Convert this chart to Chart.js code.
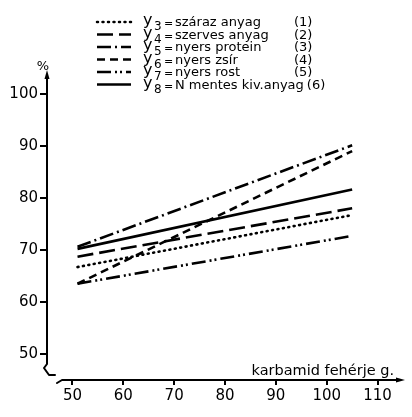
<!DOCTYPE html>
<html>
<head>
<meta charset="utf-8">
<script src="https://cdn.jsdelivr.net/npm/chart.js@4.4.1/dist/chart.umd.min.js"></script>
<style>
  body { margin: 0; background: #fff; }
</style>
</head>
<body>
<canvas id="chart" width="412" height="417"></canvas>
<script>
// karbamid fehérje (g) at the ends of the fitted lines
const xValues = [51, 105];
// y3..y8 values (%)
const szarazAnyag = [66.7, 76.7];
const szervesAnyag = [68.7, 78.0];
const nyersProtein = [70.6, 90.1];
const nyersZsir = [63.5, 89.0];
const nyersRost = [63.5, 72.7];
const nMentes = [70.2, 81.6];

const seriesNames = ['száraz anyag', 'szerves anyag', 'nyers protein', 'nyers zsír', 'nyers rost', 'N mentes kiv.anyag'];
const seriesSubs = ['3', '4', '5', '6', '7', '8'];
const seriesNums = ['(1)', '(2)', '(3)', '(4)', '(5)', '(6)'];

const xTicks = [50, 60, 70, 80, 90, 100, 110];
const yTicks = [50, 60, 70, 80, 90, 100];

const FONT = '"DejaVu Sans", sans-serif';

function pts(vals) {
    return vals.map((v, i) => ({ x: xValues[i], y: v }));
}

function ds(i, vals, dash) {
    return {
        label: seriesNames[i],
        data: pts(vals),
        borderColor: '#000',
        borderWidth: 2.6,
        borderDash: dash,
        borderCapStyle: dash.length && dash[0] < 3 ? 'round' : 'butt',
        pointRadius: 0,
        fill: false,
        tension: 0
    };
}

// legend drawn by hand so the line styles look like the print
const legendPlugin = {
    id: 'handLegend',
    afterDraw(chart) {
        const ctx = chart.ctx;
        ctx.save();
        chart.data.datasets.forEach((d, i) => {
            const yy = 22 + i * 12.5;
            ctx.strokeStyle = '#000';
            ctx.lineWidth = 2.5;
            ctx.lineCap = d.borderCapStyle;
            ctx.setLineDash(d.borderDash);
            ctx.beginPath();
            ctx.moveTo(97, yy);
            ctx.lineTo(131, yy);
            ctx.stroke();
            ctx.setLineDash([]);

            ctx.fillStyle = '#000';
            ctx.textBaseline = 'alphabetic';
            ctx.font = '16px ' + FONT;
            ctx.fillText('y', 143, yy + 3);
            ctx.font = '12px ' + FONT;
            ctx.fillText(seriesSubs[i], 154, yy + 8);
            ctx.font = '11px ' + FONT;
            ctx.fillText('=', 164, yy + 5);
            ctx.font = '13px ' + FONT;
            ctx.fillText(d.label, 175, yy + 4);
            const x = 175 + ctx.measureText(d.label).width + 3;
            ctx.fillText(seriesNums[i], Math.max(294, x), yy + 4);
        });
        ctx.restore();
    }
};

// axes with arrows and the broken corner
const axesPlugin = {
    id: 'axes',
    afterDraw(chart) {
        const { ctx, chartArea: a } = chart;
        ctx.save();
        ctx.strokeStyle = '#000';
        ctx.fillStyle = '#000';
        ctx.lineWidth = 2;
        ctx.lineCap = 'round';
        ctx.lineJoin = 'round';
        ctx.setLineDash([]);

        ctx.beginPath();
        ctx.moveTo(a.left, a.top + 4);
        ctx.lineTo(a.left, a.bottom - 16);
        ctx.lineTo(a.left - 3, a.bottom - 12);
        ctx.lineTo(a.left + 2, a.bottom - 5);
        ctx.lineTo(a.left + 8, a.bottom - 5);
        ctx.stroke();

        ctx.beginPath();
        ctx.moveTo(a.left + 10, a.bottom + 3);
        ctx.lineTo(a.left + 15, a.bottom);
        ctx.lineTo(a.right - 4, a.bottom);
        ctx.stroke();

        ctx.beginPath();
        ctx.moveTo(a.left, a.top - 3);
        ctx.lineTo(a.left - 2.5, a.top + 6);
        ctx.lineTo(a.left + 2.5, a.top + 6);
        ctx.closePath();
        ctx.fill();

        ctx.beginPath();
        ctx.moveTo(a.right + 2, a.bottom);
        ctx.lineTo(a.right - 7, a.bottom - 2.5);
        ctx.lineTo(a.right - 7, a.bottom + 2.5);
        ctx.closePath();
        ctx.fill();

        ctx.font = '13px ' + FONT;
        ctx.textAlign = 'center';
        ctx.fillText('%', a.left - 4, a.top - 3);

        ctx.font = '14.5px ' + FONT;
        ctx.textAlign = 'right';
        ctx.fillText('karbamid fehérje g.', 394, a.bottom - 5);
        ctx.restore();
    }
};

new Chart(document.getElementById('chart'), {
    type: 'line',
    data: {
        datasets: [
            ds(0, szarazAnyag, [1, 4.5]),
            ds(1, szervesAnyag, [16, 6]),
            ds(2, nyersProtein, [14, 4, 2, 4]),
            ds(3, nyersZsir, [8, 5]),
            ds(4, nyersRost, [14, 4, 2, 3, 2, 4]),
            ds(5, nMentes, [])
        ]
    },
    options: {
        responsive: false,
        animation: false,
        layout: { padding: { top: 73, right: 9, left: 0, bottom: 0 } },
        plugins: {
            legend: { display: false },
            tooltip: { enabled: false }
        },
        scales: {
            x: {
                type: 'linear',
                min: 45,
                max: 115,
                afterBuildTicks: s => { s.ticks = xTicks.map(v => ({ value: v })); },
                afterFit: s => { s.height = 37; },
                border: { display: false },
                grid: { drawOnChartArea: false, drawTicks: true, tickLength: 5, color: '#000', lineWidth: 2 },
                ticks: { color: '#000', font: { family: FONT, size: 15 }, padding: 2, maxRotation: 0 }
            },
            y: {
                min: 45,
                max: 104,
                afterBuildTicks: s => { s.ticks = yTicks.map(v => ({ value: v })); },
                afterFit: s => { s.width = 47; },
                border: { display: false },
                grid: { drawOnChartArea: false, drawTicks: true, tickLength: 7, color: '#000', lineWidth: 2 },
                ticks: { color: '#000', font: { family: FONT, size: 15 }, padding: 2 }
            }
        }
    },
    plugins: [legendPlugin, axesPlugin]
});
</script>
</body>
</html>
